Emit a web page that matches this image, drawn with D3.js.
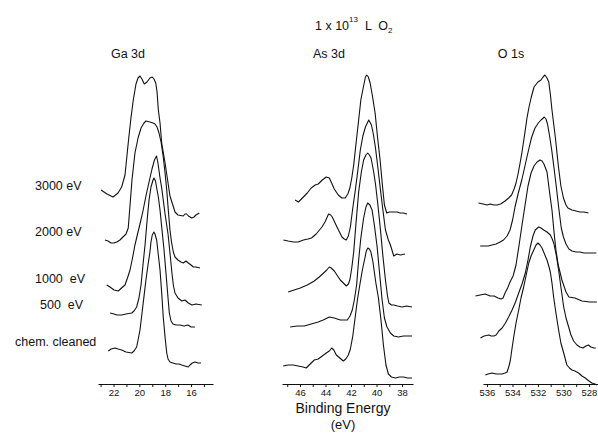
<!DOCTYPE html>
<html><head><meta charset="utf-8">
<script src="https://cdn.jsdelivr.net/npm/d3@7"></script>
<style>
html,body{margin:0;padding:0;background:#fff;}
svg{display:block;}
text{font-family:"Liberation Sans","DejaVu Sans",sans-serif;fill:#111;}
</style></head><body>
<svg id="chart" width="598" height="442"></svg>
<script>
// ---- data (binding energy in eV, intensity in arbitrary stacked units) ----
const seriesLabels = ["3000 eV", "2000 eV", "1000  eV", "500  eV", "chem. cleaned"];
const panelTitles = ["Ga 3d", "As 3d", "O 1s"];
const gaTicks = [22, 20, 18, 16];
const asTicks = [46, 44, 42, 40, 38];
const oTicks = [536, 534, 532, 530, 528];

const ga3000 = [[22.97,194],[22.50,190],[22.04,187],[21.65,191],[21.37,197],[21.11,209],[20.86,241],[20.65,266],[20.47,284],[20.26,300],[20.10,306],[19.95,308],[19.80,305],[19.62,300],[19.41,302],[19.18,306],[19.00,307],[18.87,305],[18.73,301],[18.63,292],[18.53,274],[18.40,261],[18.27,241],[18.01,221],[17.63,188],[17.24,172],[17.01,169],[16.60,168],[16.47,170],[16.34,170],[16.20,168],[15.95,166],[15.77,167],[15.62,169],[15.36,171]];
const ga2000 = [[22.66,144],[22.43,143],[22.19,141],[21.96,141],[21.75,142],[21.50,144],[21.27,147],[21.03,150],[20.86,156],[20.72,179],[20.57,204],[20.34,231],[20.10,246],[19.87,256],[19.64,261],[19.49,263],[19.18,262],[18.94,261],[18.79,260],[18.63,257],[18.48,251],[18.32,242],[18.15,227],[18.01,211],[17.88,194],[17.76,174],[17.63,154],[17.50,141],[17.37,132],[17.24,127],[17.01,124],[16.78,122],[16.60,121],[16.39,123],[16.21,121],[16.00,119],[15.82,117],[15.62,117],[15.31,116]];
const ga1000 = [[22.53,99],[22.27,97],[21.96,94],[21.63,93],[21.38,96],[21.11,99],[20.92,106],[20.72,114],[20.53,126],[20.34,139],[20.14,150],[19.95,160],[19.72,173],[19.49,188],[19.25,202],[19.02,215],[18.83,224],[18.67,228],[18.56,221],[18.40,206],[18.27,196],[18.01,170],[17.78,150],[17.63,131],[17.47,110],[17.36,98],[17.24,91],[17.01,86],[16.72,83],[16.47,84],[16.21,81],[15.93,79],[15.62,80],[15.17,79]];
const ga500 = [[22.27,71],[21.96,70],[21.73,69],[21.37,69],[21.03,70],[20.59,71],[20.41,73],[20.21,77],[20.03,86],[19.87,99],[19.72,119],[19.56,139],[19.41,162],[19.25,184],[19.10,197],[18.94,204],[18.87,206],[18.75,203],[18.63,194],[18.53,187],[18.40,174],[18.27,157],[18.09,134],[17.94,111],[17.78,86],[17.68,71],[17.55,63],[17.40,60],[17.16,59],[16.85,59],[16.54,58],[16.24,59],[16.00,57],[15.69,57]];
const gaChem = [[22.40,33],[22.19,35],[21.88,36],[21.65,35],[21.37,34],[21.03,32],[20.59,31],[20.41,33],[20.21,37],[20.10,44],[19.95,54],[19.72,79],[19.49,104],[19.31,121],[19.18,132],[19.10,142],[19.00,149],[18.87,152],[18.79,150],[18.66,144],[18.53,129],[18.40,114],[18.27,91],[18.15,67],[18.01,47],[17.88,31],[17.78,25],[17.63,22],[17.40,21],[17.16,20],[16.93,20],[16.72,19],[16.47,18],[16.21,17],[16.08,19],[15.90,21],[15.69,22],[15.46,21],[15.23,21]];

const as3000 = [[46.38,184],[46.12,182],[45.73,187],[45.43,191],[45.12,196],[44.81,199],[44.57,200],[44.25,204],[43.94,207],[43.70,206],[43.52,201],[43.31,195],[43.00,189],[42.72,186],[42.45,186],[42.25,190],[42.09,196],[41.94,206],[41.79,219],[41.62,239],[41.40,264],[41.23,284],[41.03,297],[40.87,307],[40.77,309],[40.64,307],[40.50,301],[40.32,288],[40.11,271],[39.93,248],[39.72,224],[39.54,199],[39.38,179],[39.20,171],[38.99,172],[38.67,172],[38.38,172],[38.15,171],[37.89,171],[37.61,170]];
const as2000 = [[47.30,144],[46.93,143],[46.51,142],[46.14,142],[45.73,144],[45.36,145],[45.10,146],[44.73,150],[44.28,157],[44.04,162],[43.76,170],[43.59,169],[43.47,167],[43.10,157],[42.71,147],[42.53,145],[42.37,144],[42.21,148],[42.05,157],[41.86,176],[41.66,194],[41.46,214],[41.27,234],[41.07,248],[40.87,257],[40.61,264],[40.40,259],[40.25,250],[40.09,237],[39.89,216],[39.69,194],[39.50,174],[39.30,154],[39.07,144],[38.91,139],[38.65,128],[38.40,130],[38.12,129],[37.77,130]];
const as1000 = [[46.93,92],[46.46,94],[45.98,96],[45.43,99],[44.88,103],[44.49,107],[44.15,111],[43.90,114],[43.70,117],[43.55,116],[43.31,113],[42.84,104],[42.60,101],[42.37,98],[42.21,100],[42.09,104],[41.94,116],[41.79,132],[41.62,159],[41.40,192],[41.19,212],[41.01,224],[40.83,229],[40.69,231],[40.56,229],[40.43,226],[40.25,214],[40.09,201],[39.89,179],[39.69,154],[39.50,128],[39.30,104],[39.14,88],[39.03,81],[38.83,79],[38.65,79],[38.36,78],[37.99,77],[37.65,78],[37.22,77]];
const as500 = [[46.77,57],[46.22,58],[45.67,58],[45.12,60],[44.57,62],[44.18,64],[43.70,67],[43.31,66],[42.84,64],[42.47,64],[42.29,64],[42.08,68],[41.90,74],[41.74,84],[41.56,99],[41.40,124],[41.23,146],[41.01,166],[40.83,177],[40.69,181],[40.52,179],[40.35,174],[40.17,159],[39.95,137],[39.77,112],[39.56,84],[39.38,66],[39.18,57],[38.91,51],[38.65,48],[38.28,47],[37.89,48],[37.57,48],[37.22,48]];
const asChem = [[47.32,18],[46.93,19],[46.53,19],[46.14,18],[45.75,17],[45.51,16],[45.20,20],[44.88,24],[44.57,25],[44.25,28],[43.94,31],[43.70,33],[43.51,36],[43.35,34],[43.15,29],[42.88,26],[42.60,23],[42.41,25],[42.21,29],[42.05,35],[41.86,48],[41.66,68],[41.50,84],[41.31,99],[41.11,114],[40.91,126],[40.80,133],[40.68,136],[40.56,135],[40.44,132],[40.28,122],[40.05,101],[39.85,86],[39.65,64],[39.46,39],[39.26,19],[39.07,10],[38.83,7],[38.51,6],[38.20,7],[37.89,7],[37.57,6],[37.22,6]];

const o3000 = [[536.67,181],[536.30,180],[535.99,179],[535.75,180],[535.44,179],[535.20,179],[534.93,180],[534.58,183],[534.30,186],[534.07,189],[533.87,195],[533.72,201],[533.56,210],[533.40,221],[533.25,232],[533.05,249],[532.86,266],[532.70,277],[532.54,286],[532.31,297],[532.00,302],[531.76,304],[531.60,307],[531.45,309],[531.29,306],[531.15,302],[531.02,289],[530.90,274],[530.63,246],[530.39,217],[530.20,198],[530.00,186],[529.80,179],[529.65,176],[529.33,174],[529.02,173],[528.71,172],[528.40,172],[528.04,171]];
const o2000 = [[536.53,138],[536.22,138],[535.91,138],[535.60,139],[535.28,140],[534.97,142],[534.70,144],[534.42,148],[534.19,154],[533.99,164],[533.80,177],[533.56,190],[533.27,204],[533.09,214],[532.88,226],[532.70,236],[532.49,247],[532.23,256],[531.97,261],[531.76,264],[531.50,267],[531.37,265],[531.25,260],[531.10,249],[530.92,234],[530.74,216],[530.53,194],[530.35,174],[530.17,156],[530.00,147],[529.80,140],[529.57,135],[529.33,133],[529.02,132],[528.71,132],[528.40,131],[528.08,131],[527.77,131],[527.42,131]];
const o1000 = [[536.90,88],[536.53,89],[536.14,90],[535.75,88],[535.44,88],[535.13,86],[534.89,85],[534.74,86],[534.58,91],[534.38,96],[534.19,102],[533.95,108],[533.72,119],[533.48,139],[533.25,159],[533.01,179],[532.78,198],[532.54,211],[532.31,218],[532.07,222],[531.84,224],[531.68,223],[531.53,220],[531.29,212],[531.06,189],[530.90,174],[530.74,152],[530.59,134],[530.41,119],[530.12,104],[529.80,92],[529.57,87],[529.10,86],[528.55,83],[527.93,82],[527.38,82]];
const o500 = [[536.51,46],[536.22,48],[535.85,49],[535.67,48],[535.46,48],[535.28,49],[535.07,53],[534.81,56],[534.55,61],[534.30,67],[534.03,74],[533.76,82],[533.51,91],[533.25,100],[532.99,111],[532.78,124],[532.60,137],[532.39,148],[532.21,154],[531.94,157],[531.76,156],[531.55,154],[531.29,152],[531.03,149],[530.88,145],[530.74,140],[530.55,128],[530.38,114],[530.20,97],[529.98,77],[529.80,66],[529.59,57],[529.41,49],[529.20,43],[528.94,39],[528.71,37],[528.47,36],[528.24,38],[528.04,39],[527.85,37],[527.61,36],[527.46,36]];
const oChem = [[536.12,9],[535.91,10],[535.60,11],[535.28,10],[534.81,10],[534.58,11],[534.42,12],[534.27,18],[534.16,24],[534.03,36],[533.90,47],[533.72,61],[533.51,74],[533.33,86],[533.12,97],[532.94,108],[532.72,121],[532.54,128],[532.33,134],[532.15,139],[532.00,141],[531.84,139],[531.68,136],[531.49,130],[531.29,124],[531.13,117],[531.03,112],[530.90,101],[530.77,87],[530.59,71],[530.38,54],[530.20,41],[529.98,31],[529.73,19],[529.53,16],[529.33,14],[529.10,13],[528.81,11],[528.55,8],[528.29,6],[528.00,3],[527.77,1],[527.53,0],[527.38,-1]];

// ---- layout ----
const svg = d3.select("#chart");
const axisY = 384;
const y = d3.scaleLinear().domain([0, 340]).range([axisY, 44]);

const panels = [
  {title: panelTitles[0], domain: [23.2, 14.3], range: [98, 213], ticks: gaTicks, curves: [ga3000, ga2000, ga1000, ga500, gaChem], tx: 128},
  {title: panelTitles[1], domain: [47.41, 37.14], range: [282, 413], ticks: asTicks, curves: [as3000, as2000, as1000, as500, asChem], tx: 329},
  {title: panelTitles[2], domain: [536.31, 527.29], range: [483, 598], ticks: oTicks, curves: [o3000, o2000, o1000, o500, oChem], tx: 511}
];

panels.forEach(p => {
  const x = d3.scaleLinear().domain(p.domain).range(p.range);
  const lo = Math.ceil(Math.min(...p.domain)), hi = Math.floor(Math.max(...p.domain));
  const axis = d3.axisBottom(x)
    .tickValues(d3.range(lo, hi + 1))
    .tickSize(3).tickSizeOuter(0).tickPadding(2.5)
    .tickFormat(d => p.ticks.includes(d) ? d : "");
  const g = svg.append("g").attr("transform", `translate(0,${axisY})`).call(axis);
  g.select(".domain").attr("stroke", "#111").attr("stroke-width", 1.1);
  g.selectAll(".tick line").attr("stroke", "#111").attr("stroke-width", 1);
  g.selectAll(".tick text")
    .attr("font-family", "'Liberation Sans Narrow','DejaVu Sans Condensed','Liberation Sans',sans-serif")
    .attr("font-size", 9.5).attr("fill", "#111");

  const line = d3.line().x(d => x(d[0])).y(d => y(d[1]));
  svg.append("g").selectAll("path").data(p.curves).join("path")
    .attr("d", line)
    .attr("fill", "none").attr("stroke", "#111")
    .attr("stroke-width", 1.1).attr("stroke-linejoin", "round");

  svg.append("text").attr("x", p.tx).attr("y", 58)
    .attr("text-anchor", "middle").attr("font-size", 12.5).text(p.title);
});

// series labels on the left
const labelPos = [[35, 189.5], [35, 236], [35, 282.5], [40, 309], [15, 346]];
svg.append("g").selectAll("text").data(seriesLabels).join("text")
  .attr("x", (d, i) => labelPos[i][0]).attr("y", (d, i) => labelPos[i][1])
  .attr("font-size", 12.5).style("white-space", "pre").text(d => d);

// exposure heading: 1 x 10^13 L O2
const head = svg.append("text").attr("x", 315).attr("y", 30).attr("font-size", 12.5);
head.append("tspan").text("1 x 10");
head.append("tspan").attr("font-size", 8).attr("dy", -8).text("13");
head.append("tspan").attr("dy", 8).style("white-space", "pre").text("  L  O");
head.append("tspan").attr("font-size", 8).attr("dy", 3).text("2");

// x axis title
svg.append("text").attr("x", 343).attr("y", 413).attr("text-anchor", "middle")
  .attr("font-size", 14).text("Binding Energy");
svg.append("text").attr("x", 343).attr("y", 429).attr("text-anchor", "middle")
  .attr("font-size", 13).text("(eV)");
</script>
</body></html>
